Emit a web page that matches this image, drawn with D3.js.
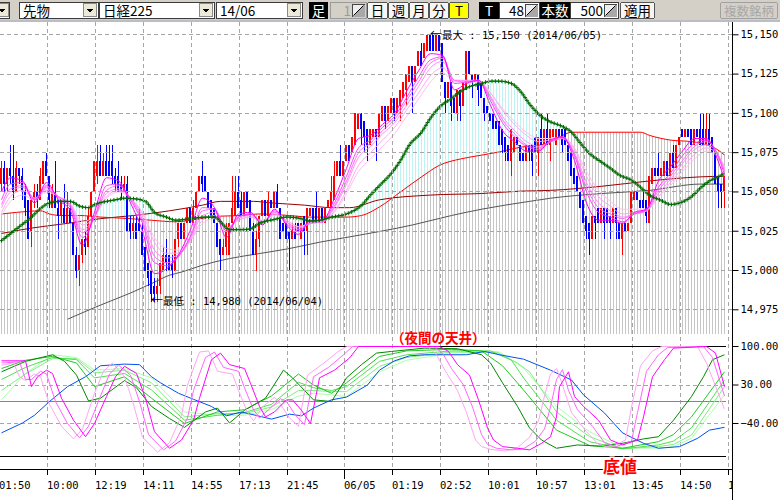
<!DOCTYPE html>
<html lang="ja">
<head>
<meta charset="UTF-8" />
<title>日経225 先物 5分足</title>
<script src="https://d3js.org/d3.v7.min.js"></script>
<style>
  html, body { margin: 0; padding: 0; background: #fff; }
  body { width: 780px; height: 500px; overflow: hidden; }
  svg { display: block; }
  .ui { font-family: 'Noto Sans CJK JP', sans-serif; font-size: 13.5px; }
  .num { font-family: 'DejaVu Sans Mono', 'Noto Sans CJK JP', monospace; font-size: 10.5px; }
  .arrow { font-family: 'Noto Sans CJK JP', sans-serif; font-size: 12px; }
</style>
</head>
<body>
<div id="chart"></div>
<script>
// ---- candles (one per bar, left to right) ----
const open = [
15055,15065,15055,15065,15060,15050,15065,15060,15050,15045,
15025,15045,15050,15045,15055,15070,15060,15040,15050,15040,
15035,15040,15030,15040,15030,15010,15000,15010,15020,15015,
15035,15050,15060,15070,15060,15070,15070,15070,15060,15060,
15055,15050,15055,15030,15025,15030,15030,15025,15015,15005,
15000,14990,14985,14990,15000,15010,15010,15005,15000,15020,
15030,15020,15030,15040,15030,15040,15050,15060,15060,15050,
15045,15040,15030,15020,15010,15015,15010,15030,15035,15050,
15045,15035,15050,15045,15025,15010,15020,15035,15045,15035,
15045,15040,15050,15040,15030,15030,15025,15020,15025,15030,
15020,15035,15025,15035,15040,15040,15030,15040,15030,15040,
15040,15045,15060,15070,15060,15070,15080,15075,15080,15090,
15100,15095,15090,15080,15085,15090,15085,15095,15105,15095,
15100,15110,15100,15105,15110,15115,15120,15130,15120,15130,
15140,15135,15140,15150,15150,15140,15150,15145,15120,15110,
15120,15110,15100,15115,15105,15115,15140,15125,15120,15125,
15120,15110,15105,15100,15100,15095,15095,15090,15085,15080,
15070,15075,15085,15080,15075,15070,15080,15080,15085,15075,
15090,15080,15090,15080,15085,15080,15090,15090,15090,15080,
15075,15065,15060,15050,15045,15035,15030,15020,15035,15040,
15030,15040,15040,15035,15030,15040,15030,15020,15030,15025,
15030,15045,15050,15045,15045,15045,15030,15055,15065,15065,
15060,15060,15070,15060,15075,15065,15080,15090,15085,15090,
15090,15080,15090,15090,15090,15080,15090,15085,15075,15060,
15055,15050
];
const high = [
15070,15070,15065,15080,15080,15070,15065,15065,15055,15045,
15045,15055,15055,15065,15070,15075,15060,15055,15070,15045,
15045,15055,15050,15045,15030,15015,15010,15020,15025,15040,
15050,15070,15080,15080,15075,15080,15080,15080,15065,15070,
15060,15060,15060,15035,15035,15035,15040,15030,15015,15005,
15000,14995,14995,15005,15015,15020,15010,15010,15020,15030,
15030,15030,15040,15040,15045,15050,15060,15070,15060,15050,
15045,15040,15030,15020,15020,15030,15030,15060,15060,15060,
15050,15050,15050,15045,15030,15025,15035,15045,15045,15050,
15045,15050,15055,15040,15030,15030,15025,15030,15030,15030,
15030,15035,15040,15040,15040,15050,15040,15040,15040,15045,
15060,15070,15070,15080,15070,15080,15080,15085,15100,15100,
15100,15095,15090,15090,15090,15090,15100,15105,15105,15105,
15110,15110,15110,15115,15120,15125,15130,15130,15130,15140,
15145,15145,15150,15150,15150,15150,15150,15145,15120,15120,
15120,15110,15115,15115,15120,15140,15140,15125,15125,15125,
15120,15110,15105,15100,15100,15095,15095,15090,15085,15080,
15090,15085,15085,15080,15075,15080,15080,15080,15085,15085,
15100,15090,15100,15090,15090,15090,15090,15090,15090,15080,
15075,15065,15060,15050,15045,15035,15030,15035,15035,15040,
15040,15040,15040,15035,15040,15040,15030,15030,15030,15030,
15050,15050,15050,15045,15050,15045,15060,15065,15065,15075,
15065,15070,15070,15075,15080,15080,15085,15090,15090,15090,
15090,15090,15090,15100,15100,15100,15100,15085,15075,15060,
15055,15060
];
const low = [
15050,15050,15050,15055,15045,15050,15055,15045,15035,15020,
15015,15040,15040,15045,15055,15060,15040,15040,15040,15020,
15030,15030,15030,15030,15010,14995,14990,15005,15010,15015,
15030,15050,15055,15060,15060,15060,15060,15055,15050,15050,
15045,15050,15025,15020,15020,15020,15025,15010,15000,14990,
14980,14980,14980,14985,15000,15000,15000,14995,15000,15015,
15020,15020,15030,15030,15030,15040,15050,15050,15050,15040,
15035,15030,15015,15000,15010,15010,15010,15030,15035,15040,
15035,15035,15040,15025,15010,15000,15015,15035,15035,15035,
15040,15040,15040,15020,15025,15020,15000,15020,15020,15025,
15020,15010,15010,15035,15030,15030,15030,15030,15030,15040,
15040,15045,15060,15060,15060,15070,15070,15075,15080,15090,
15080,15075,15070,15080,15085,15070,15085,15095,15090,15095,
15100,15095,15100,15095,15110,15105,15120,15100,15120,15130,
15130,15135,15140,15140,15140,15140,15140,15120,15100,15110,
15095,15100,15095,15095,15105,15115,15125,15110,15120,15105,
15110,15095,15100,15095,15090,15090,15080,15075,15070,15070,
15060,15075,15080,15070,15070,15070,15070,15060,15075,15060,
15080,15080,15080,15070,15085,15080,15085,15075,15080,15070,
15060,15055,15050,15040,15030,15020,15010,15020,15020,15030,
15030,15020,15030,15020,15030,15020,15020,15010,15025,15025,
15030,15045,15045,15040,15040,15030,15030,15055,15060,15060,
15060,15060,15060,15060,15065,15065,15080,15085,15085,15085,
15080,15080,15085,15080,15080,15080,15080,15075,15055,15040,
15040,15040
];
const close = [
15065,15055,15065,15060,15050,15065,15060,15050,15040,15020,
15045,15050,15045,15060,15070,15060,15045,15050,15040,15035,
15045,15030,15040,15030,15010,15000,15010,15020,15015,15035,
15050,15070,15070,15060,15070,15060,15060,15060,15055,15050,
15050,15055,15025,15025,15030,15020,15025,15010,15000,14995,
14985,14985,14990,15005,15010,15005,15000,15000,15020,15030,
15020,15030,15040,15030,15040,15050,15060,15055,15050,15040,
15035,15030,15015,15010,15015,15025,15030,15040,15050,15040,
15035,15050,15040,15025,15010,15020,15035,15045,15035,15045,
15040,15050,15040,15020,15025,15020,15020,15025,15020,15025,
15030,15025,15040,15040,15030,15030,15040,15030,15040,15045,
15050,15060,15070,15060,15070,15080,15070,15085,15100,15100,
15090,15085,15080,15090,15090,15085,15100,15105,15095,15105,
15110,15100,15110,15115,15120,15125,15130,15120,15130,15140,
15130,15145,15150,15140,15140,15150,15140,15120,15110,15120,
15105,15100,15115,15105,15120,15140,15125,15120,15125,15115,
15110,15100,15100,15095,15090,15090,15080,15080,15075,15070,
15090,15085,15080,15070,15070,15080,15075,15070,15075,15085,
15080,15090,15080,15090,15090,15090,15085,15080,15080,15070,
15060,15055,15050,15040,15030,15025,15020,15035,15030,15030,
15040,15030,15030,15030,15040,15030,15020,15030,15025,15030,
15050,15050,15045,15040,15040,15035,15060,15065,15060,15060,
15065,15070,15060,15075,15065,15080,15085,15085,15090,15085,
15080,15090,15085,15080,15080,15090,15080,15075,15055,15050,
15050,15060
];

// ---- price-panel lines, read at the listed bars ----
const maGreenBars = [0,6,10,13,16,20,23,26,29,31,35,38,41,45,48,51,55,58,63,68,71,74,76,80,83,86,91,95,100,103,106,110,115,120,123,126,130,133,136,140,143,146,150,153,156,160,163,166,170,173,176,180,183,186,190,193,196,200,203,206,210,213,216,220,223,226,230,233,236,240,241];
const maGreen = [15019,15028,15034,15039.5,15043,15044,15044,15041,15040,15042,15044,15045,15046,15045.5,15044,15037,15034,15032,15033,15034,15034,15029,15026,15026,15026.5,15030,15032.5,15034,15033,15031.5,15032,15034,15036,15041.5,15048,15054,15062,15070,15080,15088,15097,15104,15109.5,15114,15117,15119,15120.5,15120.5,15119,15114,15106,15098,15094.6,15092.5,15088,15081,15074.5,15069,15065,15060.7,15057.5,15053,15048,15044.5,15042,15043,15047,15052.5,15057,15060.7,15062];
const maRedBars = [0,5,13,16,20,26,33,43,50,58,66,73,80,86,96,103,110,115,120,126,133,140,146,153,160,166,173,180,186,190,200,213,216,223,230,235,238,241];
const maRed = [15036,15037,15038,15036,15035,15035,15034,15033,15032,15031,15033,15034.6,15035,15036,15035,15034,15034,15034,15035,15040.5,15050,15059.6,15067,15071,15073.4,15075.5,15078.5,15080,15085,15088,15088,15088,15086,15083,15082,15080,15077.7,15073.5];
const maMaroonBars = [0,10,22,33,44,56,67,73,84,90,101,110,116,126,143,160,173,183,200,216,233,241];
const maMaroon = [15023.6,15027,15030,15033,15035,15038,15041.6,15044,15044,15043,15041.6,15040,15040,15045,15048,15049,15050.5,15051,15053.6,15057,15059.6,15060];
const maGrayBars = [22,33,43,50,56,60,67,76,86,96,106,116,137,150,160,176,183,200,216,233,241];
const maGray = [14969,14978,14985.7,14991.7,14997,14999,15003.4,15007.6,15010.8,15014,15018,15021.4,15029,15035,15039,15044,15046,15049,15051,15055,15055];

const ribbonBars = [0,3,7,11,15,19,23,27,31,35,39,43,47,51,55,59,63,67,71,75,79,83,87,91,95,99,103,107,111,115,119,123,127,131,135,139,143,147,151,155,159,163,167,171,175,179,183,187,191,195,199,203,207,211,215,219,223,227,231,235,239,241];
const ribbon1 = [15050,15059,15057,15043,15056,15045,15038,15016,15037,15059,15057,15043,15025,14998,15001,15010,15026,15046,15040,15021,15036,15037,15029,15039,15029,15023,15032,15032,15046,15065,15084,15086,15093,15100,15114,15127,15138,15137,15115,15119,15121,15105,15089,15082,15076,15076,15083,15085,15070,15043,15032,15032,15030,15037,15039,15057,15066,15076,15084,15084,15069,15058];
const ribbon2 = [15045,15055,15056,15045,15054,15046,15040,15021,15034,15054,15055,15045,15030,15005,15003,15009,15022,15040,15039,15025,15034,15036,15030,15038,15030,15025,15031,15032,15043,15060,15078,15083,15091,15098,15110,15123,15134,15136,15119,15120,15121,15108,15094,15085,15079,15077,15082,15085,15073,15050,15037,15034,15031,15036,15039,15053,15062,15073,15081,15083,15072,15061];
const ribbon3 = [15042,15052,15054,15046,15053,15047,15041,15024,15034,15051,15054,15046,15032,15009,15005,15009,15021,15038,15039,15026,15034,15036,15031,15037,15031,15026,15030,15031,15041,15057,15075,15081,15089,15096,15108,15120,15132,15135,15121,15120,15121,15110,15096,15087,15080,15078,15082,15084,15074,15053,15040,15036,15033,15036,15038,15051,15060,15070,15079,15082,15073,15063];
const ribbon4 = [15040,15050,15053,15046,15052,15047,15042,15026,15034,15049,15052,15046,15034,15013,15008,15010,15020,15035,15037,15027,15033,15035,15031,15036,15031,15027,15030,15031,15040,15055,15072,15079,15087,15094,15105,15117,15129,15133,15121,15121,15121,15111,15098,15089,15082,15079,15082,15084,15075,15056,15043,15038,15034,15036,15038,15049,15058,15068,15077,15080,15073,15064];
const ribbon5 = [15037,15047,15051,15046,15051,15047,15042,15029,15034,15047,15051,15046,15036,15018,15011,15011,15019,15032,15035,15027,15032,15034,15031,15036,15032,15028,15030,15031,15038,15051,15067,15075,15083,15091,15102,15113,15124,15129,15121,15121,15121,15113,15102,15093,15086,15082,15083,15084,15077,15060,15047,15041,15036,15037,15038,15047,15056,15065,15074,15078,15073,15066];
const ribbon6 = [15035,15044,15048,15045,15050,15047,15043,15031,15035,15046,15050,15046,15037,15021,15014,15013,15019,15030,15033,15027,15032,15034,15032,15035,15032,15028,15030,15031,15037,15049,15063,15071,15079,15087,15098,15109,15120,15126,15120,15120,15120,15113,15103,15095,15088,15084,15084,15085,15078,15063,15051,15044,15039,15039,15039,15047,15054,15063,15071,15076,15072,15066];

// ---- lower panel (RCI), read at the listed bars ----
const rciBlueBars = [0,7,11,16,22,28,33,41,46,50,53,59,64,70,75,80,90,96,100,104,110,115,122,126,131,136,141,155,161,166,174,183,190,194,201,207,214,219,226,232,236,241];
const rciBlue = [-57,-39,-25,0,27,45,65,68,67,45,34,15,4,-9,-26,-19,-32,-23,-26,-12,3,8,30,57,74,83,85,85,91,85,77,57,39,12,-21,-57,-76,-85,-82,-67,-52,-47];
const rciG1Bars = [0,8,17,21,25,29,33,41,45,50,56,61,68,72,76,81,88,94,97,104,110,115,120,125,130,141,152,160,163,167,172,176,180,185,192,199,207,214,219,224,230,234,237,241];
const rciG1 = [54,73,85,73,48,1,6,38,25,-9,-31,-47,-19,-12,-39,-16,6,57,43,3,0,43,67,88,91,97,96,85,70,34,-9,-48,-70,-85,-79,-81,-76,-68,-64,-34,9,45,76,85];
const rciG2Bars = [0,8,17,25,31,41,50,61,72,81,90,99,104,110,115,126,135,150,160,167,174,185,196,207,219,224,230,241];
const rciG2 = [60,75,82,70,27,45,6,-40,-19,-15,10,50,30,15,34,82,92,95,92,65,21,-52,-80,-85,-73,-60,-28,54];
const rciG3Bars = [0,8,17,25,31,41,50,61,72,81,90,99,104,110,115,126,135,150,163,170,174,185,196,207,219,224,230,241];
const rciG3 = [40,62,80,76,43,51,21,-34,-25,-20,-5,35,25,20,27,73,85,92,92,75,43,-34,-73,-86,-79,-72,-48,39];
const rciG4Bars = [0,8,17,25,31,41,50,61,72,81,90,99,104,110,115,126,135,150,165,172,176,185,196,207,219,224,230,241];
const rciG4 = [20,50,78,78,52,57,34,-28,-22,-22,-10,20,20,18,18,64,80,90,90,70,54,-19,-64,-86,-82,-78,-61,27];
const rciG5Bars = [0,8,17,25,31,41,50,61,72,81,90,99,104,110,115,126,135,150,166,174,185,196,207,219,224,230,241];
const rciG5 = [3,51,85,80,57,60,43,-19,-25,-25,-15,10,15,12,9,54,75,88,90,61,-9,-55,-84,-85,-82,-67,12];
const rciP1Bars = [0,8,10,12,15,17,20,24,28,31,35,38,41,45,48,51,56,60,64,66,70,73,76,81,83,86,88,91,95,97,100,103,106,111,116,119,146,149,152,156,159,162,164,167,172,176,180,183,185,186,189,191,194,199,203,207,212,214,217,221,224,235,238,241];
const rciP1 = [74,74,27,45,57,51,6,-34,-64,-40,9,45,64,51,6,-55,-85,-70,-34,6,76,88,67,60,33,-9,-28,-19,3,3,-16,-40,43,57,79,100,100,91,67,48,3,-48,-70,-82,-85,-88,-76,-64,-28,27,54,9,-9,-34,-70,-79,-70,-28,45,76,97,100,88,27];
const rciP2Bars = [0,6,8,10,13,15,18,22,26,29,33,36,39,43,46,49,54,58,62,64,68,71,74,79,81,84,86,89,93,95,98,101,104,109,114,117,144,147,150,154,157,160,162,165,170,174,178,181,183,185,187,189,192,197,201,205,210,212,215,219,222,234,237,241];
const rciP2 = [70,72,40,40,55,50,0,-40,-66,-45,10,50,66,48,0,-60,-88,-72,-30,20,80,90,62,55,25,-15,-30,-15,5,0,-25,-42,45,62,85,100,100,88,60,30,-10,-60,-78,-85,-88,-86,-72,-50,-10,40,58,20,-15,-45,-75,-82,-72,-20,55,85,98,100,80,10];
const rciP3Bars = [0,4,6,8,11,13,16,20,24,27,31,34,37,41,44,47,52,56,60,62,66,69,72,77,79,82,84,87,91,93,96,99,102,107,112,115,142,145,148,152,155,158,160,163,168,172,176,179,181,183,185,187,190,195,199,203,208,210,213,217,220,232,235,241];
const rciP3 = [66,70,45,38,50,45,-5,-45,-68,-50,15,55,70,45,-5,-65,-92,-75,-25,30,90,92,55,50,20,-20,-35,-10,8,-5,-30,-45,48,68,90,100,100,85,55,20,-20,-70,-82,-87,-90,-84,-65,-35,10,50,60,30,-20,-55,-78,-84,-70,-10,65,92,100,100,70,-14];

// ---- axes ----
const tickBars = [0,16,32,48,64,80,96,115,131,147,163,179,195,211,227,243];
const tickLabels = ["01:50","10:00","12:19","14:11","14:55","17:13","21:45","06/05","01:19","02:52","10:01","10:57","13:01","13:45","14:50","15:12"];
const priceTicks = [15150,15125,15100,15075,15050,15025,15000,14975];
const rciTicks = [100,30,-40];

const MAIN_TOP = 22, MAIN_BOTTOM = 334, AXIS_X = 732.5, AXIS_Y = 469.5;

const svg = d3.select("#chart").append("svg").attr("width", 780).attr("height", 500);
svg.append("rect").attr("width", 780).attr("height", 500).attr("fill", "#fff");

const x = d3.scaleLinear().domain([0, 243]).range([0, 729]);
const yP = d3.scaleLinear().domain([14975, 15150]).range([309.8, 34.8]);
const yR = d3.scaleLinear().domain([-100, 100]).range([456.5, 346.5]);

const lastBar = close.length - 1;
const pairs = (bars, vals) => bars.map((b, k) => [b, vals[k]]);
const xl = d => x(d[0]) + 1.5;
// fills reach the outer edge of the first and last bar slot
const xa = d => d[0] === 0 ? x(0) : d[0] === lastBar ? x(lastBar) + 3 : x(d[0]) + 1.5;

const defs = svg.append("defs");
function barPattern(id, color) {
  const p = defs.append("pattern").attr("id", id)
    .attr("patternUnits", "userSpaceOnUse").attr("width", 3).attr("height", 4);
  p.append("rect").attr("x", 1).attr("width", 1).attr("height", 4).attr("fill", color);
}
barPattern("grayStripes", "#c6c6c6");
barPattern("cyanStripes", "#bdf3f3");
defs.append("clipPath").attr("id", "mainClip").append("rect")
  .attr("x", 0).attr("y", MAIN_TOP).attr("width", 732).attr("height", MAIN_BOTTOM - MAIN_TOP);
defs.append("clipPath").attr("id", "lowClip").append("rect")
  .attr("x", 0).attr("y", 338).attr("width", 732).attr("height", 130);
defs.append("clipPath").attr("id", "axisClip").append("rect")
  .attr("x", -10).attr("y", 0).attr("width", 743).attr("height", 31);

// ---- price panel ----
const redPts = pairs(maRedBars, maRed);
const greenPts = pairs(maGreenBars, maGreen);
const main = svg.append("g").attr("clip-path", "url(#mainClip)");

main.append("path")
  .attr("d", d3.area().x(xa).y0(MAIN_BOTTOM).y1(d => yP(d[1])).curve(d3.curveMonotoneX)(redPts))
  .attr("fill", "url(#grayStripes)");
defs.append("clipPath").attr("id", "aboveRed").append("path")
  .attr("d", d3.area().x(xa).y0(MAIN_TOP).y1(d => yP(d[1])).curve(d3.curveMonotoneX)(redPts));
main.append("g").attr("clip-path", "url(#aboveRed)").append("path")
  .attr("d", d3.area().x(xa).y0(MAIN_BOTTOM).y1(d => yP(d[1])).curve(d3.curveMonotoneX)(greenPts))
  .attr("fill", "url(#cyanStripes)");

// grid
const grid = svg.append("g").attr("stroke", "#a6a6a6").attr("stroke-dasharray", "4,3")
  .attr("shape-rendering", "crispEdges");
priceTicks.forEach(v => {
  const y = Math.floor(yP(v)) + 0.5;
  grid.append("line").attr("x1", 0).attr("x2", 732).attr("y1", y).attr("y2", y);
});
[30, -40].forEach(v => {
  const y = Math.floor(yR(v)) + 0.5;
  grid.append("line").attr("x1", 0).attr("x2", 726).attr("y1", y).attr("y2", y);
});
tickBars.forEach(b => {
  grid.append("line").attr("x1", x(b) - 0.5).attr("x2", x(b) - 0.5).attr("y1", MAIN_TOP).attr("y2", 469);
});

const maLine = d3.line().x(xl).y(d => yP(d[1])).curve(d3.curveMonotoneX);
main.append("path").attr("d", maLine(pairs(maGrayBars, maGray))).attr("fill", "none").attr("stroke", "#555");
main.append("path").attr("d", maLine(pairs(maMaroonBars, maMaroon))).attr("fill", "none").attr("stroke", "#990000");
main.append("path").attr("d", maLine(redPts)).attr("fill", "none").attr("stroke", "#ff0000");

// candles
const cg = main.append("g").attr("shape-rendering", "crispEdges");
close.forEach((c, i) => {
  const o = open[i];
  const col = c > o ? "#ff0000" : "#0000ff";
  cg.append("line").attr("x1", x(i) + 1.5).attr("x2", x(i) + 1.5)
    .attr("y1", yP(high[i])).attr("y2", yP(low[i])).attr("stroke", col);
  if (c !== o) {
    const top = yP(Math.max(o, c)), bot = yP(Math.min(o, c));
    cg.append("rect").attr("x", x(i)).attr("y", top).attr("width", 2).attr("height", bot - top).attr("fill", col);
  } else {
    cg.append("rect").attr("x", x(i)).attr("y", Math.floor(yP(o))).attr("width", 3).attr("height", 1).attr("fill", col);
  }
});

// short average ribbon, slow first so the fast magenta is on top
[[ribbon6, "#ffc0f0"], [ribbon5, "#ffaaf4"], [ribbon4, "#ff90f6"],
 [ribbon3, "#ff70fa"], [ribbon2, "#ff44ff"], [ribbon1, "#ff00ff"]].forEach(([vals, col]) => {
  main.append("path").attr("d", maLine(pairs(ribbonBars, vals)))
    .attr("fill", "none").attr("stroke", col);
});

// green average with cross markers
const gPath = main.append("path").attr("d", maLine(greenPts)).attr("fill", "none").attr("stroke", "#008000");
const gNode = gPath.node();
const gLen = gNode.getTotalLength();
let crosses = "";
for (let s = 0; s <= gLen; s += 3.3) {
  const p = gNode.getPointAtLength(s);
  crosses += `M${p.x - 2},${p.y}h4M${p.x},${p.y - 2}v4`;
}
main.append("path").attr("d", crosses).attr("fill", "none").attr("stroke", "#006800");

// annotations
function extremeLabel(x0, y0, text) {
  const t = svg.append("text").attr("class", "num").attr("x", x0).attr("y", y0).attr("fill", "#000");
  t.append("tspan").attr("class", "arrow").text("←");
  t.append("tspan").text(text);
}
extremeLabel(430, 38.5, "最大 : 15,150 (2014/06/05)");
extremeLabel(151, 304.5, "最低 : 14,980 (2014/06/04)");

// ---- lower panel ----
const low2 = svg.append("g").attr("clip-path", "url(#lowClip)");
low2.append("line").attr("x1", 0).attr("x2", 726)
  .attr("y1", Math.floor(yR(0)) + 0.5).attr("y2", Math.floor(yR(0)) + 0.5)
  .attr("stroke", "#3399ff").attr("shape-rendering", "crispEdges");
[100, -100].forEach(v => {
  low2.append("line").attr("x1", 0).attr("x2", 726).attr("y1", yR(v)).attr("y2", yR(v))
    .attr("stroke", "#000").attr("shape-rendering", "crispEdges");
});
const rciLine = d3.line().x(xl).y(d => yR(d[1]));
[[rciG5Bars, rciG5, "#aaffaa"], [rciG4Bars, rciG4, "#80f080"], [rciG3Bars, rciG3, "#50e050"],
 [rciG2Bars, rciG2, "#22c822"], [rciG1Bars, rciG1, "#008800"], [rciBlueBars, rciBlue, "#0050f0"],
 [rciP3Bars, rciP3, "#ffa6f4"], [rciP2Bars, rciP2, "#ff66ff"], [rciP1Bars, rciP1, "#ff00ff"]]
  .forEach(([bars, vals, col]) => {
    low2.append("path").attr("d", rciLine(pairs(bars, vals)))
      .attr("fill", "none").attr("stroke", col);
  });

svg.append("text").attr("class", "ui").attr("x", 391).attr("y", 343)
  .attr("fill", "#ff0000").attr("font-weight", "bold").style("font-size", "13.5px")
  .text("（夜間の天井）");

// ---- axes ----
svg.append("line").attr("x1", AXIS_X).attr("x2", AXIS_X).attr("y1", MAIN_TOP).attr("y2", 500)
  .attr("stroke", "#000").attr("shape-rendering", "crispEdges");
svg.append("line").attr("x1", 0).attr("x2", AXIS_X).attr("y1", AXIS_Y).attr("y2", AXIS_Y)
  .attr("stroke", "#000").attr("shape-rendering", "crispEdges");

const gy = svg.append("g").attr("class", "num").attr("transform", `translate(${AXIS_X},0)`)
  .call(d3.axisRight(yP).tickValues(priceTicks).tickSize(6).tickPadding(2)
    .tickFormat(d3.format(",")).offset(0));
gy.select(".domain").remove();
const gr = svg.append("g").attr("class", "num").attr("transform", `translate(${AXIS_X},0)`)
  .call(d3.axisRight(yR).tickValues(rciTicks).tickSize(6).tickPadding(2)
    .tickFormat(d3.format(".2f")).offset(0));
gr.select(".domain").remove();

const gx = svg.append("g").attr("class", "num").attr("transform", `translate(-0.5,${AXIS_Y})`)
  .attr("clip-path", "url(#axisClip)")
  .call(d3.axisBottom(x).tickValues(tickBars).tickSize(5).offset(0)
    .tickFormat((d, k) => tickLabels[k]));
gx.select(".domain").remove();
gx.selectAll(".tick line").attr("y2", d => d === 115 ? 9 : 5).attr("shape-rendering", "crispEdges");
gx.selectAll(".tick text").attr("text-anchor", "start").attr("x", -0.5).attr("y", 12);
[gy, gr, gx].forEach(g => g.selectAll("text").attr("fill", "#000"));

svg.append("text").attr("class", "ui").attr("x", 603).attr("y", 473)
  .attr("fill", "#ff0000").attr("font-weight", "bold").style("font-size", "17px")
  .attr("stroke", "#fff").attr("stroke-width", 3).attr("paint-order", "stroke")
  .text("底値");

// ---- toolbar ----
const tb = svg.append("g").attr("class", "ui").attr("shape-rendering", "crispEdges");
tb.append("rect").attr("width", 780).attr("height", 20).attr("fill", "#d4d0c8");
tb.append("rect").attr("y", 20).attr("width", 780).attr("height", 2).attr("fill", "#babdc2");

function dropButton(x0) {
  tb.append("rect").attr("x", x0 + 0.5).attr("y", 3.5).attr("width", 13).attr("height", 13)
    .attr("fill", "#ece9d8").attr("stroke", "#8a8a8a");
  tb.append("path").attr("d", `M${x0 + 3.5},8.5h7l-3.5,4z`).attr("fill", "#000");
}
function combo(x0, w, label) {
  tb.append("rect").attr("x", x0 + 0.5).attr("y", 2.5).attr("width", w).attr("height", 16)
    .attr("fill", "#fff").attr("stroke", "#3c3c3c");
  if (label) tb.append("text").attr("x", x0 + 4).attr("y", 16).attr("fill", "#000").text(label);
  dropButton(x0 + w - 15);
}
function button(x0, w, label, opt = {}) {
  tb.append("rect").attr("x", x0 + 0.5).attr("y", 2.5).attr("width", w - 1).attr("height", 16)
    .attr("rx", 2).attr("fill", opt.fill || "#f6f6f6").attr("stroke", opt.stroke || "#555");
  const t = tb.append("text").attr("x", x0 + w / 2).attr("y", 16).attr("text-anchor", "middle")
    .attr("fill", opt.color || "#000").text(label);
  if (opt.size) t.style("font-size", opt.size);
}
function blackLabel(x0, w, label) {
  tb.append("rect").attr("x", x0).attr("y", 2).attr("width", w).attr("height", 17).attr("fill", "#000");
  tb.append("text").attr("x", x0 + w / 2).attr("y", 16).attr("text-anchor", "middle")
    .attr("fill", "#fff").text(label);
}
function spin(x0, w, value, disabled) {
  tb.append("rect").attr("x", x0 + 0.5).attr("y", 2.5).attr("width", w).attr("height", 16)
    .attr("fill", disabled ? "#d4d0c8" : "#fff").attr("stroke", disabled ? "#9a9a9a" : "#3c3c3c");
  tb.append("text").attr("x", x0 + w - 15).attr("y", 16).attr("text-anchor", "end")
    .attr("fill", disabled ? "#9a9a9a" : "#000").text(value);
  const ix = x0 + w - 13.5;
  tb.append("rect").attr("x", ix).attr("y", 4.5).attr("width", 12).attr("height", 12)
    .attr("fill", "#eeeeee").attr("stroke", "#444");
  tb.append("path").attr("d", `M${ix + 12},${4.5}v12h-12z`).attr("fill", "#a8a8a8");
  tb.append("path").attr("d", `M${ix + 1},${15.5}L${ix + 11},${5.5}`).attr("stroke", "#000")
    .attr("shape-rendering", "auto");
}

tb.append("rect").attr("x", -20.5).attr("y", 2.5).attr("width", 30).attr("height", 16)
  .attr("fill", "#fff").attr("stroke", "#3c3c3c");
dropButton(-5);
combo(19, 79, "先物");
combo(99, 115, "日経225");
combo(216, 86, "14/06");
blackLabel(309, 19, "足");
spin(330, 36, "1", true);
button(367, 21, "日");
button(388, 21, "週");
button(409, 20, "月");
button(429, 20, "分");
button(449, 20, "T", { fill: "#ffff00" });
blackLabel(479, 20, "T");
spin(499, 40, "48", false);
blackLabel(540, 30, "本数");
spin(570, 48, "500", false);
button(620, 35, "適用");
button(720, 58, "複数銘柄", { fill: "#d4d0c8", stroke: "#a0a0a0", color: "#a8a8a8", size: "12.5px" });
</script>
</body>
</html>
